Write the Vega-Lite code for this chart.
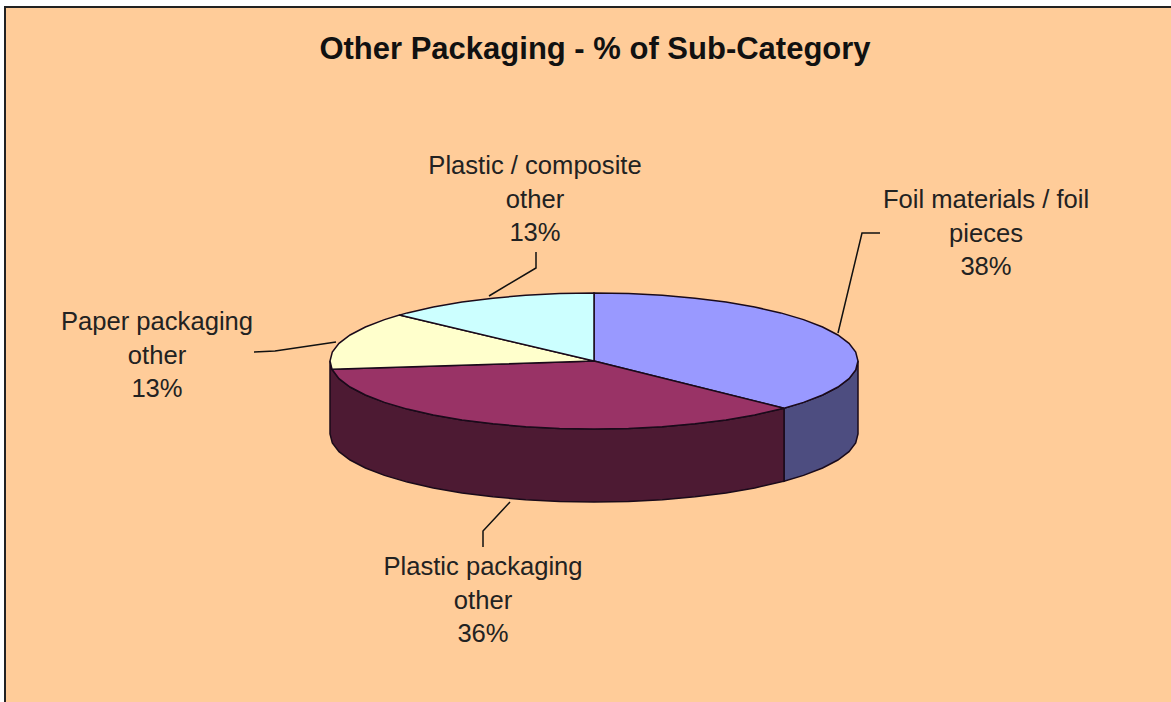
{"$schema":"https://vega.github.io/schema/vega-lite/v6.json","width":1171,"height":702,"padding":0,"autosize":"none","background":"white",
"title":{"text":"Other Packaging - % of Sub-Category","font":"Liberation Sans","fontSize":31,"fontWeight":"bold","color":"#111111","anchor":"middle","frame":"group","dx":9.5,"dy":90,"offset":0,"baseline":"alphabetic"},
"config":{"view":{"stroke":null}},
"datasets":{
"frame":[{"x":5,"y":7,"x2":1171,"y2":702}],
"edge":[{"i":1,"x":5,"y":702},{"i":2,"x":5,"y":7},{"i":3,"x":1171,"y":7}],
"leaders":[
{"name":"Foil","i":1,"x":838,"y":333},{"name":"Foil","i":2,"x":862,"y":233},{"name":"Foil","i":3,"x":880,"y":233},
{"name":"Composite","i":1,"x":489,"y":296},{"name":"Composite","i":2,"x":536,"y":268},{"name":"Composite","i":3,"x":536,"y":252},
{"name":"Paper","i":1,"x":254,"y":352},{"name":"Paper","i":2,"x":275,"y":351},{"name":"Paper","i":3,"x":336,"y":342},
{"name":"Plastic","i":1,"x":510,"y":502},{"name":"Plastic","i":2,"x":483,"y":531},{"name":"Plastic","i":3,"x":483,"y":547}],
"labels":[
{"label":"Foil materials / foil\npieces\n38%","pct":38,"x":986,"y":200},
{"label":"Plastic / composite\nother\n13%","pct":13,"x":535,"y":166},
{"label":"Paper packaging\nother\n13%","pct":13,"x":157,"y":322},
{"label":"Plastic packaging\nother\n36%","pct":36,"x":483,"y":567}],
"outline":[
{"part":"Foil side","i":1,"x":858,"y":361},{"part":"Foil side","i":2,"x":855.7,"y":369.9},{"part":"Foil side","i":3,"x":849,"y":378.6},{"part":"Foil side","i":4,"x":837.9,"y":387},{"part":"Foil side","i":5,"x":822.6,"y":395},{"part":"Foil side","i":6,"x":803.5,"y":402.4},{"part":"Foil side","i":7,"x":784,"y":408.2},{"part":"Foil side","i":8,"x":784,"y":481.2},{"part":"Foil side","i":9,"x":803.5,"y":475.4},{"part":"Foil side","i":10,"x":822.6,"y":468},{"part":"Foil side","i":11,"x":837.9,"y":460},{"part":"Foil side","i":12,"x":849,"y":451.6},{"part":"Foil side","i":13,"x":855.7,"y":442.9},{"part":"Foil side","i":14,"x":858,"y":434},
{"part":"Plastic side","i":1,"x":784,"y":408.2},{"part":"Plastic side","i":2,"x":754.7,"y":415},{"part":"Plastic side","i":3,"x":726,"y":419.9},{"part":"Plastic side","i":4,"x":695,"y":423.8},{"part":"Plastic side","i":5,"x":662.3,"y":426.7},{"part":"Plastic side","i":6,"x":628.5,"y":428.4},{"part":"Plastic side","i":7,"x":594,"y":429},{"part":"Plastic side","i":8,"x":559.5,"y":428.4},{"part":"Plastic side","i":9,"x":525.7,"y":426.7},{"part":"Plastic side","i":10,"x":493,"y":423.8},{"part":"Plastic side","i":11,"x":462,"y":419.9},{"part":"Plastic side","i":12,"x":433.3,"y":415},{"part":"Plastic side","i":13,"x":407.3,"y":409.1},{"part":"Plastic side","i":14,"x":384.5,"y":402.4},{"part":"Plastic side","i":15,"x":365.4,"y":395},{"part":"Plastic side","i":16,"x":350.1,"y":387},{"part":"Plastic side","i":17,"x":339,"y":378.6},{"part":"Plastic side","i":18,"x":332,"y":369.3},{"part":"Plastic side","i":19,"x":330,"y":361},{"part":"Plastic side","i":20,"x":330,"y":434},{"part":"Plastic side","i":21,"x":332.3,"y":442.9},{"part":"Plastic side","i":22,"x":339,"y":451.6},{"part":"Plastic side","i":23,"x":350.1,"y":460},{"part":"Plastic side","i":24,"x":365.4,"y":468},{"part":"Plastic side","i":25,"x":384.5,"y":475.4},{"part":"Plastic side","i":26,"x":407.3,"y":482.1},{"part":"Plastic side","i":27,"x":433.3,"y":488},{"part":"Plastic side","i":28,"x":462,"y":492.9},{"part":"Plastic side","i":29,"x":493,"y":496.8},{"part":"Plastic side","i":30,"x":525.7,"y":499.7},{"part":"Plastic side","i":31,"x":559.5,"y":501.4},{"part":"Plastic side","i":32,"x":594,"y":502},{"part":"Plastic side","i":33,"x":628.5,"y":501.4},{"part":"Plastic side","i":34,"x":662.3,"y":499.7},{"part":"Plastic side","i":35,"x":695,"y":496.8},{"part":"Plastic side","i":36,"x":726,"y":492.9},{"part":"Plastic side","i":37,"x":754.7,"y":488},{"part":"Plastic side","i":38,"x":784,"y":481.2},
{"part":"Foil top","i":0,"x":594,"y":361},{"part":"Foil top","i":1,"x":594,"y":293},{"part":"Foil top","i":2,"x":628.5,"y":293.6},{"part":"Foil top","i":3,"x":662.3,"y":295.3},{"part":"Foil top","i":4,"x":695,"y":298.2},{"part":"Foil top","i":5,"x":726,"y":302.1},{"part":"Foil top","i":6,"x":754.7,"y":307},{"part":"Foil top","i":7,"x":780.7,"y":312.9},{"part":"Foil top","i":8,"x":803.5,"y":319.6},{"part":"Foil top","i":9,"x":822.6,"y":327},{"part":"Foil top","i":10,"x":837.9,"y":335},{"part":"Foil top","i":11,"x":849,"y":343.4},{"part":"Foil top","i":12,"x":855.7,"y":352.1},{"part":"Foil top","i":13,"x":858,"y":361},{"part":"Foil top","i":14,"x":855.7,"y":369.9},{"part":"Foil top","i":15,"x":849,"y":378.6},{"part":"Foil top","i":16,"x":837.9,"y":387},{"part":"Foil top","i":17,"x":822.6,"y":395},{"part":"Foil top","i":18,"x":803.5,"y":402.4},{"part":"Foil top","i":19,"x":784,"y":408.2},
{"part":"Plastic top","i":0,"x":594,"y":361},{"part":"Plastic top","i":1,"x":784,"y":408.2},{"part":"Plastic top","i":2,"x":754.7,"y":415},{"part":"Plastic top","i":3,"x":726,"y":419.9},{"part":"Plastic top","i":4,"x":695,"y":423.8},{"part":"Plastic top","i":5,"x":662.3,"y":426.7},{"part":"Plastic top","i":6,"x":628.5,"y":428.4},{"part":"Plastic top","i":7,"x":594,"y":429},{"part":"Plastic top","i":8,"x":559.5,"y":428.4},{"part":"Plastic top","i":9,"x":525.7,"y":426.7},{"part":"Plastic top","i":10,"x":493,"y":423.8},{"part":"Plastic top","i":11,"x":462,"y":419.9},{"part":"Plastic top","i":12,"x":433.3,"y":415},{"part":"Plastic top","i":13,"x":407.3,"y":409.1},{"part":"Plastic top","i":14,"x":384.5,"y":402.4},{"part":"Plastic top","i":15,"x":365.4,"y":395},{"part":"Plastic top","i":16,"x":350.1,"y":387},{"part":"Plastic top","i":17,"x":339,"y":378.6},{"part":"Plastic top","i":18,"x":332,"y":369.3},
{"part":"Paper top","i":0,"x":594,"y":361},{"part":"Paper top","i":1,"x":332,"y":369.3},{"part":"Paper top","i":2,"x":330,"y":361},{"part":"Paper top","i":3,"x":332.3,"y":352.1},{"part":"Paper top","i":4,"x":339,"y":343.4},{"part":"Paper top","i":5,"x":350.1,"y":335},{"part":"Paper top","i":6,"x":365.4,"y":327},{"part":"Paper top","i":7,"x":384.5,"y":319.6},{"part":"Paper top","i":8,"x":399.4,"y":315.1},
{"part":"Composite top","i":0,"x":594,"y":361},{"part":"Composite top","i":1,"x":399.4,"y":315.1},{"part":"Composite top","i":2,"x":407.3,"y":312.9},{"part":"Composite top","i":3,"x":433.3,"y":307},{"part":"Composite top","i":4,"x":462,"y":302.1},{"part":"Composite top","i":5,"x":493,"y":298.2},{"part":"Composite top","i":6,"x":525.7,"y":295.3},{"part":"Composite top","i":7,"x":559.5,"y":293.6},{"part":"Composite top","i":8,"x":594,"y":293}
]},
"encoding":{"x":{"field":"x","type":"quantitative","scale":{"domain":[0,1171],"nice":false,"zero":false},"axis":null},"y":{"field":"y","type":"quantitative","scale":{"domain":[702,0],"nice":false,"zero":false},"axis":null}},
"layer":[
{"data":{"name":"frame"},"mark":{"type":"rect","fill":"#FFCC99"},"encoding":{"x2":{"field":"x2"},"y2":{"field":"y2"}}},
{"data":{"name":"edge"},"mark":{"type":"line","stroke":"#222222","strokeWidth":2},"encoding":{"order":{"field":"i"}}},
{"data":{"name":"leaders"},"mark":{"type":"line","stroke":"#111111","strokeWidth":1.5},"encoding":{"detail":{"field":"name"},"order":{"field":"i"}}},
{"data":{"name":"outline"},"mark":{"type":"line","interpolate":"linear-closed","stroke":"#1a0a1a","strokeWidth":1.5},"encoding":{"detail":{"field":"part"},"order":{"field":"i"},"fill":{"field":"part","type":"nominal","legend":null,"scale":{"domain":["Foil side","Plastic side","Foil top","Plastic top","Paper top","Composite top"],"range":["#4D4D80","#4D1A33","#9999FF","#993366","#FFFFCC","#CCFFFF"]}}}},
{"data":{"name":"labels"},"mark":{"type":"text","font":"Liberation Sans","fontSize":25.6,"color":"#222222","align":"center","baseline":"middle","lineBreak":"\n","lineHeight":33.5},"encoding":{"text":{"field":"label"}}}
]}
